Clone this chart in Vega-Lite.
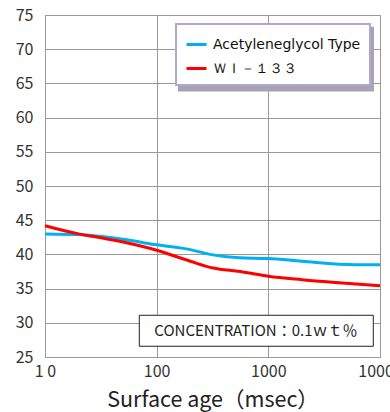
{
  "$schema": "https://vega.github.io/schema/vega-lite/v6.json",
  "width": 335,
  "height": 342,
  "autosize": {"type": "none"},
  "padding": {"left": 45, "top": 15, "right": 10, "bottom": 55},
  "background": "white",
  "config": {
    "font": "Noto Sans CJK JP",
    "view": {"stroke": "#999999", "strokeWidth": 1},
    "axis": {"gridColor": "#9a9a9a", "gridWidth": 1, "domainColor": "#9a9a9a", "ticks": false, "labelColor": "#333333", "labelFontSize": 16, "labelFont": "Noto Sans CJK JP"},
    "axisY": {"values": [25, 30, 35, 40, 45, 50, 55, 60, 65, 70, 75], "tickCount": 11, "labelPadding": 12, "labelOverlap": false}
  },
  "datasets": {
    "lines": [
      {"t": 10, "v": 43.0, "s": "Acetyleneglycol Type"},
      {"t": 20, "v": 42.9, "s": "Acetyleneglycol Type"},
      {"t": 50, "v": 42.2, "s": "Acetyleneglycol Type"},
      {"t": 100, "v": 41.4, "s": "Acetyleneglycol Type"},
      {"t": 200, "v": 40.7, "s": "Acetyleneglycol Type"},
      {"t": 300, "v": 40.0, "s": "Acetyleneglycol Type"},
      {"t": 550, "v": 39.5, "s": "Acetyleneglycol Type"},
      {"t": 1000, "v": 39.4, "s": "Acetyleneglycol Type"},
      {"t": 2000, "v": 39.0, "s": "Acetyleneglycol Type"},
      {"t": 6000, "v": 38.5, "s": "Acetyleneglycol Type"},
      {"t": 10000, "v": 38.5, "s": "Acetyleneglycol Type"},
      {"t": 10, "v": 44.2, "s": "ＷＩ－１３３"},
      {"t": 20, "v": 43.0, "s": "ＷＩ－１３３"},
      {"t": 30, "v": 42.5, "s": "ＷＩ－１３３"},
      {"t": 50, "v": 41.8, "s": "ＷＩ－１３３"},
      {"t": 100, "v": 40.6, "s": "ＷＩ－１３３"},
      {"t": 200, "v": 39.0, "s": "ＷＩ－１３３"},
      {"t": 320, "v": 38.0, "s": "ＷＩ－１３３"},
      {"t": 560, "v": 37.5, "s": "ＷＩ－１３３"},
      {"t": 1000, "v": 36.8, "s": "ＷＩ－１３３"},
      {"t": 2000, "v": 36.3, "s": "ＷＩ－１３３"},
      {"t": 4000, "v": 35.9, "s": "ＷＩ－１３３"},
      {"t": 10000, "v": 35.4, "s": "ＷＩ－１３３"}
    ],
    "shadow": [{"xa": 155, "xb": 8830, "ya": 73.27, "yb": 63.83}],
    "note": [{"xa": 69.9, "xb": 8710, "ya": 31.1, "yb": 26.57, "xc": 774, "yc": 28.8, "label": "CONCENTRATION：0.1ｗｔ％"}]
  },
  "layer": [
    {
      "data": {"name": "lines"},
      "mark": {"type": "line", "strokeWidth": 3, "interpolate": "monotone"},
      "encoding": {
        "x": {
          "field": "t", "type": "quantitative",
          "scale": {"type": "log", "domain": [10, 10000]},
          "axis": {"values": [10, 100, 1000, 10000], "labelExpr": "datum.value == 10 ? '1 0' : format(datum.value, 'd')", "title": "Surface age（msec）", "titleFontSize": 21.5, "titleFontWeight": "normal", "titleColor": "#222222", "titlePadding": 10, "labelPadding": 6, "labelFlush": false, "labelOverlap": false}
        },
        "y": {
          "field": "v", "type": "quantitative",
          "scale": {"domain": [25, 75], "zero": false, "nice": false},
          "axis": {"values": [25, 30, 35, 40, 45, 50, 55, 60, 65, 70, 75], "title": null, "labelOverlap": false}
        },
        "color": {
          "field": "s", "type": "nominal",
          "scale": {"domain": ["Acetyleneglycol Type", "ＷＩ－１３３"], "range": ["#00b0f0", "#ff0000"]},
          "legend": {"title": null, "orient": "none", "legendX": 131, "legendY": 9, "fillColor": "white", "strokeColor": "#b3a8cc", "padding": 9, "symbolType": "stroke", "symbolSize": 400, "symbolStrokeWidth": 3, "labelFontSize": 14, "labelColor": "#111111", "labelOffset": 5, "rowPadding": 5, "labelFont": "DejaVu Sans", "encode": {"legend": {"update": {"strokeWidth": {"value": 2}}}}}
        }
      }
    },
    {
      "data": {"name": "shadow"},
      "mark": {"type": "rect", "color": "#a9a2b6"},
      "encoding": {
        "x": {"field": "xa", "type": "quantitative"},
        "x2": {"field": "xb"},
        "y": {"field": "ya", "type": "quantitative", "axis": {"values": [25, 30, 35, 40, 45, 50, 55, 60, 65, 70, 75], "title": null, "labelOverlap": false}},
        "y2": {"field": "yb"}
      }
    },
    {
      "data": {"name": "note"},
      "mark": {"type": "rect", "fill": "white", "stroke": "#222222", "strokeWidth": 1},
      "encoding": {
        "x": {"field": "xa", "type": "quantitative"},
        "x2": {"field": "xb"},
        "y": {"field": "ya", "type": "quantitative", "axis": {"values": [25, 30, 35, 40, 45, 50, 55, 60, 65, 70, 75], "title": null, "labelOverlap": false}},
        "y2": {"field": "yb"}
      }
    },
    {
      "data": {"name": "note"},
      "mark": {"type": "text", "fontSize": 15, "color": "#222222", "align": "center", "baseline": "middle"},
      "encoding": {
        "x": {"field": "xc", "type": "quantitative"},
        "y": {"field": "yc", "type": "quantitative", "axis": {"values": [25, 30, 35, 40, 45, 50, 55, 60, 65, 70, 75], "title": null, "labelOverlap": false}},
        "text": {"field": "label"}
      }
    }
  ]
}
